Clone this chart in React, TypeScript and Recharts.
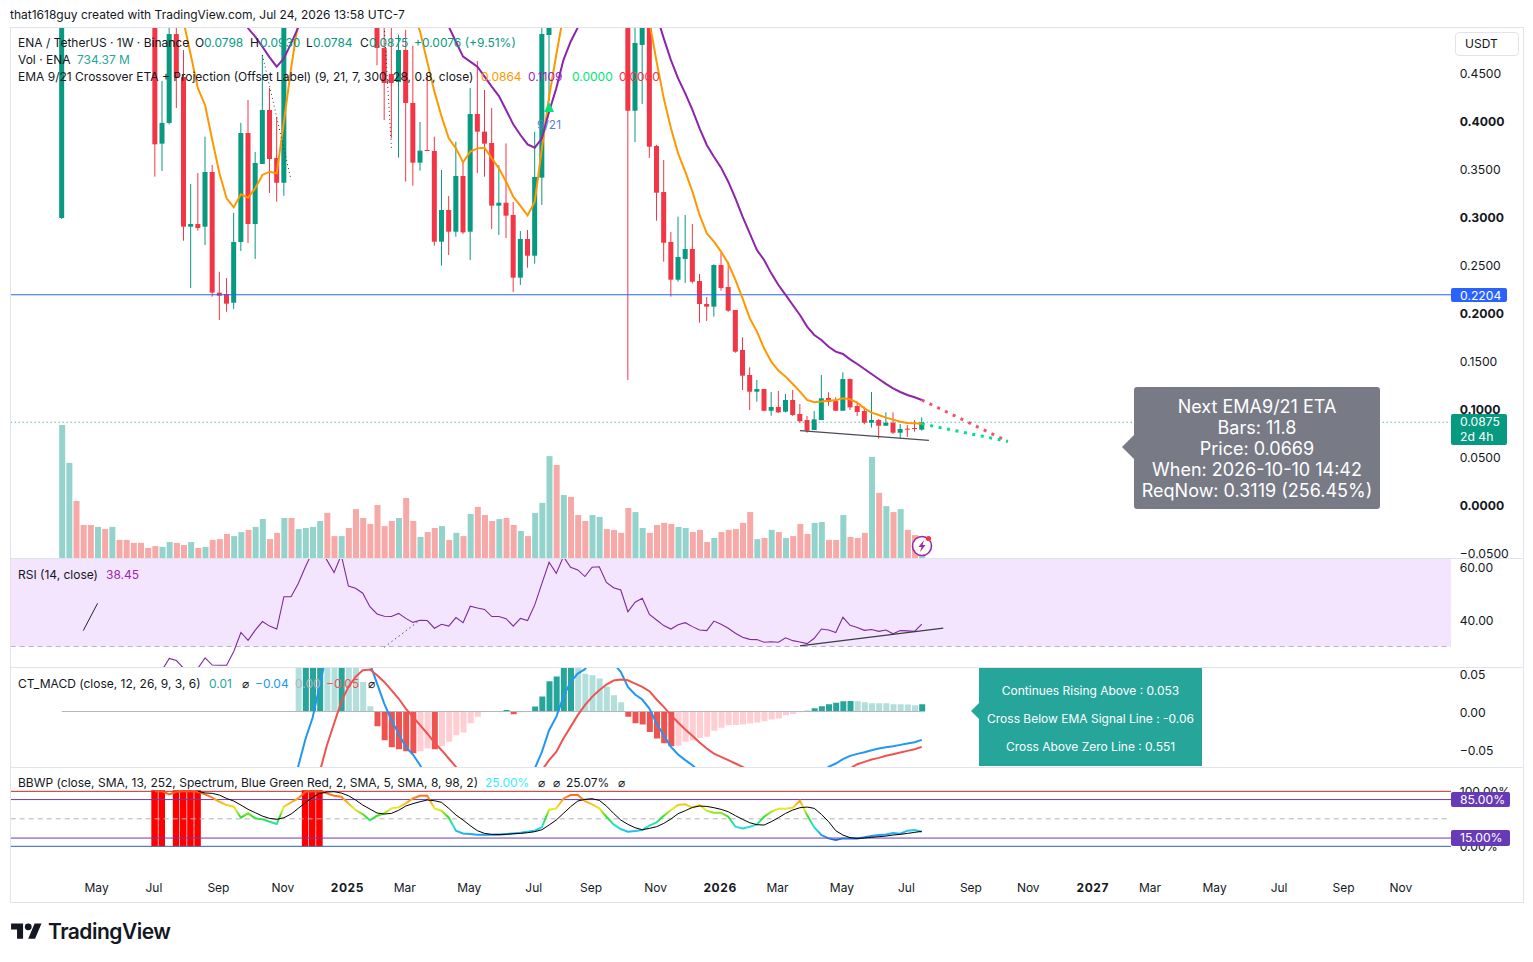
import { Bar, Cell, ComposedChart, Line, ReferenceArea, ReferenceDot, ReferenceLine, XAxis, YAxis } from 'recharts'

// weekly ENA/USDT. Bars above the pane top are estimates.
const opens = [
  0.299, 0.82, 0.96, 0.87, 0.8, 0.72, 0.79, 0.72, 0.78, 0.74, 0.69, 0.65, 0.61, 0.57, 0.3764, 0.398, 0.4906, 0.4458, 0.2899, 0.2927,
  0.2899, 0.3469, 0.2212, 0.2198, 0.2107, 0.274, 0.3875, 0.2927, 0.3552, 0.4115, 0.3615, 0.3357, 0.53, 0.515, 0.56, 0.63, 0.71, 0.83, 0.76, 0.72,
  0.8, 0.73, 0.66, 0.6, 0.56, 0.476, 0.449, 0.4406, 0.474, 0.4188, 0.3566, 0.3698, 0.3688, 0.2743, 0.3073, 0.2847, 0.3427, 0.2847, 0.4073, 0.3889,
  0.3771, 0.3118, 0.3149, 0.3021, 0.2368, 0.2771, 0.2597, 0.341, 0.4896, 0.53, 0.515, 0.64, 0.6, 0.56, 0.54, 0.58, 0.62, 0.59, 0.56, 0.53,
  0.4107, 0.4792, 0.53, 0.374, 0.326, 0.274, 0.2347, 0.2563, 0.2667, 0.2333, 0.2094, 0.2066, 0.25, 0.2271, 0.2031, 0.1615, 0.1354, 0.118, 0.1208, 0.0982,
  0.1021, 0.0972, 0.1094, 0.0948, 0.0885, 0.0781, 0.0885, 0.1115, 0.1083, 0.0982, 0.1312, 0.1031, 0.0979, 0.0857, 0.0885, 0.0826, 0.0857, 0.0753, 0.0795, 0.0802,
  0.0785,
]
const closes = [
  0.82, 0.96, 0.87, 0.8, 0.72, 0.79, 0.72, 0.78, 0.74, 0.69, 0.65, 0.61, 0.57, 0.3757, 0.398, 0.4906, 0.4458, 0.2899, 0.2927, 0.2885,
  0.3469, 0.2212, 0.218, 0.2097, 0.274, 0.3875, 0.2927, 0.3563, 0.4115, 0.3604, 0.3357, 0.53, 0.515, 0.56, 0.63, 0.71, 0.83, 0.76, 0.72, 0.8,
  0.73, 0.66, 0.6, 0.56, 0.476, 0.4396, 0.4396, 0.474, 0.4188, 0.3566, 0.3691, 0.3688, 0.2743, 0.3073, 0.2847, 0.3427, 0.284, 0.4073, 0.3889, 0.3764,
  0.3118, 0.3149, 0.3014, 0.2368, 0.2771, 0.2597, 0.3417, 0.4906, 0.53, 0.515, 0.64, 0.6, 0.56, 0.54, 0.58, 0.62, 0.59, 0.56, 0.53, 0.4107,
  0.4813, 0.53, 0.3732, 0.3253, 0.2732, 0.2347, 0.2583, 0.2667, 0.2326, 0.2094, 0.2066, 0.25, 0.226, 0.2024, 0.1597, 0.1347, 0.118, 0.1208, 0.0982, 0.1021,
  0.0965, 0.1094, 0.0938, 0.0872, 0.0774, 0.0892, 0.1111, 0.1073, 0.0982, 0.1312, 0.1017, 0.0969, 0.0857, 0.0885, 0.0826, 0.0857, 0.0753, 0.0792, 0.079, 0.0798,
  0.0862,
]
const highs = [
  0.86, 1.01, 1.02, 0.9, 0.83, 0.84, 0.81, 0.82, 0.8, 0.76, 0.71, 0.68, 0.63, 0.6, 0.4417, 0.53, 0.55, 0.474, 0.3344, 0.3458,
  0.3837, 0.3542, 0.243, 0.2364, 0.3042, 0.398, 0.4219, 0.3677, 0.4688, 0.4344, 0.4042, 0.56, 0.6, 0.6, 0.66, 0.74, 0.88, 0.92, 0.8, 0.84,
  0.83, 0.76, 0.69, 0.62, 0.58, 0.51, 0.5, 0.49, 0.495, 0.4785, 0.399, 0.4479, 0.3837, 0.349, 0.3219, 0.3784, 0.3576, 0.4344, 0.4625, 0.4323,
  0.4135, 0.3542, 0.3767, 0.3156, 0.2854, 0.2865, 0.3889, 0.5, 0.56, 0.6, 0.66, 0.68, 0.63, 0.6, 0.62, 0.65, 0.64, 0.61, 0.58, 0.55,
  0.51, 0.55, 0.56, 0.3751, 0.3594, 0.2844, 0.3003, 0.3021, 0.2927, 0.2406, 0.2167, 0.2507, 0.2625, 0.2535, 0.2031, 0.1747, 0.1434, 0.1302, 0.1208, 0.1177,
  0.1188, 0.1156, 0.1198, 0.1052, 0.0927, 0.0979, 0.1354, 0.1174, 0.1122, 0.1382, 0.1318, 0.1076, 0.1024, 0.1177, 0.0896, 0.0965, 0.0965, 0.0844, 0.0833, 0.0885,
  0.0913,
]
const lows = [
  0.298, 0.78, 0.84, 0.76, 0.68, 0.7, 0.69, 0.7, 0.72, 0.66, 0.62, 0.58, 0.54, 0.342, 0.348, 0.3965, 0.4135, 0.2753, 0.226, 0.2858,
  0.2708, 0.217, 0.1927, 0.2014, 0.2042, 0.2646, 0.2729, 0.2563, 0.3552, 0.325, 0.316, 0.3222, 0.505, 0.505, 0.54, 0.6, 0.69, 0.73, 0.68, 0.7,
  0.7, 0.62, 0.57, 0.53, 0.458, 0.401, 0.382, 0.3618, 0.3368, 0.3326, 0.3482, 0.3688, 0.2701, 0.2493, 0.2604, 0.2795, 0.2823, 0.2552, 0.3458, 0.342,
  0.2875, 0.2813, 0.2781, 0.2219, 0.2292, 0.2472, 0.2514, 0.3125, 0.42, 0.505, 0.51, 0.57, 0.54, 0.52, 0.52, 0.56, 0.56, 0.54, 0.51, 0.1302,
  0.3781, 0.4177, 0.3615, 0.2961, 0.2535, 0.217, 0.2326, 0.2313, 0.2309, 0.1899, 0.1917, 0.1962, 0.2233, 0.2012, 0.1586, 0.1198, 0.099, 0.1076, 0.0976, 0.093,
  0.0958, 0.0965, 0.0928, 0.0857, 0.0753, 0.0781, 0.0885, 0.1035, 0.0982, 0.0982, 0.099, 0.0927, 0.0841, 0.0806, 0.0691, 0.0826, 0.074, 0.0695, 0.0708, 0.0764,
  0.0774,
]
// relative weekly volume in billions
const volumes = [
  49.2, 35.2, 21.1, 12.2, 12.2, 11.5, 10.7, 11.5, 6.7, 6.7, 5.6, 5.6, 3.7, 4.4, 4.1, 5.9, 5.6, 4.8, 5.9, 3.7,
  4.1, 6.7, 7.0, 8.9, 8.1, 9.6, 10.4, 11.5, 14.4, 7.0, 9.3, 14.8, 14.8, 10.7, 11.1, 11.5, 13.7, 16.7, 8.1, 8.1,
  11.1, 18.1, 14.8, 12.6, 19.6, 11.8, 13.7, 14.8, 22.2, 13.7, 7.8, 9.6, 11.1, 11.8, 6.7, 9.3, 8.1, 16.3, 18.9, 15.9,
  13.7, 14.4, 14.8, 12.2, 10.0, 8.1, 16.7, 20.4, 37.7, 34.4, 23.3, 22.6, 15.9, 13.7, 15.9, 15.2, 10.7, 10.4, 9.3, 18.5,
  17.0, 11.1, 9.3, 12.2, 13.0, 12.6, 11.5, 11.1, 9.6, 10.4, 5.9, 7.4, 9.6, 10.4, 10.7, 13.0, 17.0, 7.0, 7.4, 10.4,
  9.6, 7.4, 8.1, 12.6, 8.9, 13.0, 13.3, 6.7, 6.7, 15.9, 7.8, 7.4, 9.3, 37.4, 24.1, 19.2, 17.0, 18.1, 10.4, 8.5,
  0.73,
]
const ema9 = [
  null, null, null, null, null, null, null, null, 0.77, 0.75, 0.73, 0.71, 0.68, 0.63, 0.59, 0.56, 0.535, 0.5035, 0.4688, 0.434,
  0.4167, 0.3802, 0.3455, 0.3194, 0.3101, 0.3236, 0.3201, 0.3299, 0.3438, 0.3472, 0.3455, 0.3993, 0.4549, 0.5035, 0.54, 0.58, 0.63, 0.65, 0.66, 0.68,
  0.69, 0.68, 0.67, 0.65, 0.62, 0.6, 0.58, 0.56, 0.54, 0.515, 0.4931, 0.4618, 0.4306, 0.4045, 0.3819, 0.3715, 0.3569, 0.3681, 0.3715, 0.3722,
  0.3611, 0.3507, 0.3368, 0.3212, 0.3115, 0.3017, 0.316, 0.3715, 0.4253, 0.4688, 0.5104, 0.53, 0.55, 0.56, 0.565, 0.57, 0.57, 0.57, 0.56, 0.55,
  0.54, 0.5174, 0.5035, 0.4618, 0.4236, 0.3924, 0.3663, 0.3472, 0.3264, 0.3021, 0.283, 0.2743, 0.2639, 0.2517, 0.2344, 0.2153, 0.1945, 0.1806, 0.1632, 0.1493,
  0.14, 0.1337, 0.1261, 0.1181, 0.1094, 0.107, 0.1077, 0.1087, 0.109, 0.1111, 0.1101, 0.1066, 0.1007, 0.0962, 0.0938, 0.091, 0.0889, 0.0868, 0.0854, 0.0851,
  0.0846,
]
const ema21 = [
  null, null, null, null, null, null, null, null, null, null, null, null, null, null, null, null, null, null, null, null,
  0.64, 0.62, 0.6, 0.575, 0.55, 0.52, 0.4965, 0.4878, 0.4774, 0.4663, 0.4566, 0.4653, 0.4809, 0.4972, 0.52, 0.545, 0.57, 0.59, 0.6, 0.615,
  0.625, 0.63, 0.63, 0.625, 0.62, 0.605, 0.59, 0.58, 0.57, 0.56, 0.55, 0.54, 0.525, 0.5139, 0.4983, 0.4826, 0.467, 0.4618, 0.4566, 0.4462,
  0.4358, 0.426, 0.4115, 0.3965, 0.3854, 0.3757, 0.3722, 0.3819, 0.4097, 0.434, 0.4635, 0.4826, 0.4972, 0.52, 0.54, 0.56, 0.575, 0.58, 0.58, 0.575,
  0.565, 0.55, 0.53, 0.5104, 0.4861, 0.4635, 0.4444, 0.4288, 0.4115, 0.3924, 0.375, 0.3628, 0.3514, 0.3368, 0.3194, 0.3003, 0.283, 0.2656, 0.2552, 0.2413,
  0.2292, 0.2188, 0.2083, 0.1979, 0.1858, 0.1771, 0.1719, 0.1649, 0.1597, 0.1573, 0.1517, 0.1469, 0.1417, 0.1365, 0.1313, 0.1261, 0.1215, 0.1177, 0.1146, 0.1122,
  0.1094,
]
// sparse series: index -> value
const projRed: Record<number, number> = { 120: 0.1094, 132: 0.0662 }
const projGreen: Record<number, number> = { 120: 0.0846, 132: 0.0662 }
const supportLine: Record<number, number> = { 103: 0.0774, 121: 0.0674 }
const dottedA: Record<number, number> = { 28: 0.4688, 32: 0.3385 }
const dottedB: Record<number, number> = { 45: 0.4979, 46: 0.3715 }
const hline = 0.219
const lastLine = 0.0862
const priceTicks = [0.45, 0.4, 0.35, 0.3, 0.25, 0.2, 0.15, 0.1, 0.05, 0, -0.05]
const boldPriceTicks = [0.4, 0.3, 0.2, 0.1, 0]

const rsi = [
  null, null, null, null, null, null, null, null, null, null, null, null, null, null, 21.1, 25.5, 24.7, 21.8, 19.9, 21.8,
  25.7, 23.0, 22.9, 22.9, 28.1, 35.3, 32.3, 36.2, 39.4, 37.7, 36.6, 48.8, 48.8, 53.8, 60.1, 65.8, 67.7, 62.6, 57.9, 64.5,
  52.8, 52.0, 50.1, 45.0, 42.3, 41.4, 41.3, 42.5, 40.6, 39.1, 39.9, 39.8, 36.9, 38.4, 37.7, 40.9, 39.0, 45.2, 44.5, 44.0,
  41.3, 41.3, 40.5, 37.7, 40.6, 39.8, 45.7, 53.8, 61.8, 57.6, 63.9, 59.9, 58.9, 56.4, 59.9, 60.1, 54.2, 52.2, 51.3, 43.1,
  46.7, 48.2, 42.1, 40.0, 37.9, 36.6, 38.2, 39.0, 37.5, 36.2, 36.0, 39.6, 38.4, 36.9, 35.0, 33.5, 32.7, 32.6, 31.6, 31.8,
  31.6, 33.3, 32.2, 31.7, 31.1, 33.1, 36.6, 36.2, 35.3, 41.0, 38.0, 37.2, 36.1, 36.4, 35.7, 36.2, 34.8, 36.0, 35.9, 35.7,
  38.45,
]
const rsiTrendA: Record<number, number> = { 3: 36.0, 5: 46.3 }
const rsiTrendB: Record<number, number> = { 103: 30.2, 123: 36.9 }
const rsiDotted: Record<number, number> = { 45: 29.7, 50: 40.0 }
const rsiTicks = [60, 40]

const macdHist = [
  null, null, null, null, null, null, null, null, null, null, null, null, null, null, null, null, null, null, null, null,
  null, null, null, null, null, null, null, null, null, null, null, null, null, 0.08, 0.085, 0.09, 0.095, 0.09, 0.08, 0.085,
  0.08, 0.065, 0.039, 0.007, -0.0193, -0.0377, -0.0469, -0.0496, -0.0522, -0.0548, -0.0522, -0.0487, -0.0496, -0.0456, -0.0399, -0.0311, -0.0276, -0.0154, -0.007, 0,
  0, 0, 0.002, -0.0035, -0.001, -0.0005, 0.0066, 0.0197, 0.0399, 0.0461, 0.06, 0.07, 0.065, 0.0496, 0.0478, 0.0434, 0.0329, 0.0215, 0.0123, -0.007,
  -0.0154, -0.0171, -0.0268, -0.0355, -0.0417, -0.0456, -0.045, -0.0399, -0.0382, -0.0346, -0.0333, -0.0254, -0.0215, -0.018, -0.0178, -0.0171, -0.0158, -0.0145, -0.0127, -0.0105,
  -0.0092, -0.0048, -0.0031, -0.0009, 0.0009, 0.0044, 0.007, 0.0096, 0.0114, 0.0136, 0.0137, 0.0135, 0.0123, 0.011, 0.0109, 0.0108, 0.0096, 0.0095, 0.0094, 0.0083,
  0.0096,
]
const macdLine = [
  null, null, null, null, null, null, null, null, null, null, null, null, null, null, null, null, null, null, null, null,
  null, null, null, null, null, null, null, null, null, null, null, null, -0.13, -0.072, -0.0364, -0.0083, 0.0346, 0.0785, 0.1, 0.11,
  0.115, 0.11, 0.09, 0.0632, 0.0368, 0.0105, -0.0114, -0.0289, -0.0465, -0.0566, -0.0706, -0.088, -0.1, -0.11, -0.12, -0.125, -0.13, -0.13, -0.125, -0.12,
  -0.115, -0.11, -0.105, -0.1, -0.095, -0.09, -0.075, -0.0531, -0.0246, -0.007, 0.0193, 0.039, 0.05, 0.0557, 0.07, 0.08, 0.0741, 0.0632, 0.0522, 0.0325,
  0.0224, 0.0158, 0.0039, -0.0158, -0.0311, -0.0465, -0.0566, -0.064, -0.0706, -0.0794, -0.09, -0.1, -0.11, -0.12, -0.125, -0.13, -0.13, -0.125, -0.12, -0.115,
  -0.11, -0.105, -0.1, -0.095, -0.09, -0.085, -0.08, -0.0728, -0.0684, -0.0627, -0.0583, -0.0557, -0.0535, -0.0509, -0.0487, -0.0469, -0.0456, -0.0439, -0.0421, -0.0404,
  -0.0373,
]
const macdSignal = [
  null, null, null, null, null, null, null, null, null, null, null, null, null, null, null, null, null, null, null, null,
  null, null, null, null, null, null, null, null, null, null, null, null, null, null, -0.14, -0.11, -0.0794, -0.0443, -0.0158, 0.0127,
  0.0325, 0.0456, 0.0544, 0.0553, 0.0478, 0.039, 0.0281, 0.0171, 0.0039, -0.007, -0.018, -0.0289, -0.0408, -0.0509, -0.0618, -0.0728, -0.085, -0.095, -0.105, -0.112,
  -0.118, -0.122, -0.125, -0.125, -0.122, -0.115, -0.1, -0.0772, -0.064, -0.0531, -0.0355, -0.0202, -0.0048, 0.0083, 0.0193, 0.0281, 0.0355, 0.0408, 0.0421, 0.0412,
  0.0368, 0.0325, 0.0268, 0.0158, 0.0061, -0.0048, -0.0145, -0.0237, -0.032, -0.0408, -0.0487, -0.0553, -0.0596, -0.064, -0.0684, -0.0728, -0.078, -0.085, -0.092, -0.098,
  -0.103, -0.106, -0.108, -0.108, -0.105, -0.1, -0.095, -0.09, -0.085, -0.08, -0.075, -0.0693, -0.0662, -0.0632, -0.061, -0.0583, -0.0561, -0.0539, -0.0518, -0.0496,
  -0.0465,
]
const macdTicks = [0.05, 0, -0.05]

const bbwp = [
  null, null, null, null, null, null, null, null, null, null, null, null, null, 100, 100, 94.5, 99.3, 100, 100, 99.3,
  94.5, 88.4, 81, 75, 72, 52, 60, 51, 49, 44.8, 40.5, 72, 80, 87, 99.3, 100, 100, 96.3, 92, 90.2,
  78, 66, 58.7, 47.2, 55.7, 60, 69, 70.8, 78, 87, 92, 92, 69, 64.8, 52, 28.4, 23.5, 22.3, 21.1, 21.1,
  21.1, 21.1, 22.3, 23.5, 24.8, 26.6, 28.4, 35, 66.6, 69, 86.6, 93.2, 93.2, 82.3, 76.3, 69, 53.8, 39.9, 31.4, 26.6,
  27.8, 29.6, 37.5, 43.5, 55.7, 66, 75, 76.3, 70.2, 75, 64.8, 61.1, 61.1, 53.8, 35.7, 32.6, 35.7, 39.9, 53.8, 62.9,
  68.4, 68.4, 70.2, 82.9, 56.9, 34.4, 20.5, 14.4, 11.4, 14.4, 14.4, 14.4, 16.3, 18.7, 20.5, 21.7, 24.1, 22.9, 28.4, 29.6,
  26.6,
]
const bbwpMa = [
  null, null, null, null, null, null, null, null, null, null, null, null, null, null, null, null, null, null, null, 100,
  97, 96.3, 93.2, 87, 82.3, 75, 67.2, 61.1, 55, 50.8, 49, 52, 58.7, 69, 79.3, 89, 96.3, 98.7, 99.3, 96.9,
  92, 84.2, 75, 67.8, 60.5, 58.7, 59.9, 65.4, 73.2, 77.5, 81.1, 84.2, 82.9, 79.9, 69, 56.9, 47.8, 37.5, 28.4, 23.5,
  21.7, 21.7, 21.7, 22.9, 23.5, 24.8, 26.6, 30.2, 38.7, 47.8, 59.9, 72, 82.3, 85.4, 86.6, 83.5, 73.2, 59.9, 47.8, 39.9,
  33.8, 30.2, 32.6, 35.7, 41.7, 49.6, 59.3, 64.8, 70.8, 73.2, 72.6, 70.2, 67.2, 62.9, 55.7, 49, 42.9, 39.3, 38.7, 44.8,
  52, 59.9, 66, 70.2, 71.4, 69, 58.1, 44.8, 28.4, 20.5, 15.7, 14.4, 15, 16.3, 17.5, 18.7, 20.5, 21.7, 23.5, 25.3,
  27.2,
]
const bbwpAlerts = [13, 14, 16, 17, 18, 19, 34, 35, 36]
const bbwpTicks = [100, 0]

const timeTicks = [5, 13, 22, 31, 40, 48, 57, 66, 74, 83, 92, 100, 109, 118, 127, 135, 144, 152, 161, 170, 179, 187]
const timeLabels = ['May', 'Jul', 'Sep', 'Nov', '2025', 'Mar', 'May', 'Jul', 'Sep', 'Nov', '2026', 'Mar', 'May', 'Jul', 'Sep', 'Nov', '2027', 'Mar', 'May', 'Jul', 'Sep', 'Nov']

const rows = Array.from({ length: 202 }, (_, k) => {
  const i = k - 7
  const hasBar = i >= 0 && i < opens.length
  return {
    idx: i,
    open: hasBar ? opens[i] : null,
    close: hasBar ? closes[i] : null,
    range: hasBar ? [lows[i], highs[i]] : null,
    volume: hasBar ? volumes[i] : null,
    ema9: ema9[i] ?? null,
    ema21: ema21[i] ?? null,
    projRed: projRed[i] ?? null,
    projGreen: projGreen[i] ?? null,
    supportLine: supportLine[i] ?? null,
    dottedA: dottedA[i] ?? null,
    dottedB: dottedB[i] ?? null,
    rsi: rsi[i] ?? null,
    rsiTrendA: rsiTrendA[i] ?? null,
    rsiTrendB: rsiTrendB[i] ?? null,
    rsiDotted: rsiDotted[i] ?? null,
    hist: macdHist[i] ?? null,
    macd: macdLine[i] ?? null,
    signal: macdSignal[i] ?? null,
    bbwp: bbwp[i] ?? null,
    bbwpMa: bbwpMa[i] ?? null,
    alert: bbwpAlerts.includes(i) ? 102 : null,
  }
})

const CHART_W = 1517.7
const AXIS_W = 70
const FONT = 'Inter, "Noto Sans", sans-serif'
const INK = '#131722'
const UP = '#089981'
const DOWN = '#f23645'

function histColor(i: number) {
  const v = macdHist[i]
  const prev = macdHist[i - 1]
  if (v == null) return 'none'
  const rising = prev != null && v > prev
  if (v >= 0) return rising ? '#26a69a' : '#b2dfdb'
  return rising || prev == null ? '#ffcdd2' : '#ef5350'
}

function Candle(props: any) {
  const { x, y, width, height, payload } = props
  if (!payload || payload.open == null) return null
  const [low, high] = payload.range
  const toY = (v: number) => y + ((high - v) / (high - low)) * height
  const cx = x + width / 2
  const top = toY(Math.max(payload.open, payload.close))
  const bottom = toY(Math.min(payload.open, payload.close))
  const color = payload.close >= payload.open ? UP : DOWN
  return (
    <g>
      <line x1={cx} x2={cx} y1={y} y2={y + height} stroke={color} strokeWidth={1} />
      <rect x={cx - 2.5} y={top} width={5} height={Math.max(bottom - top, 1)} fill={color} />
    </g>
  )
}

function AxisTick(props: any) {
  const { x, y, payload, format, bold } = props
  const strong = bold && bold.includes(payload.value)
  return (
    <text x={x - 4} y={y + 5} fontFamily={FONT} fontSize={12.2} fontWeight={strong ? 700 : 400} fill={INK}>
      {format(payload.value)}
    </text>
  )
}

function TimeTick(props: any) {
  const { x, y, payload } = props
  const label = timeLabels[timeTicks.indexOf(payload.value)]
  const year = label.startsWith('20')
  return (
    <text x={x - 1} y={y + 11} textAnchor="middle" fontFamily={FONT} fontSize={12} fontWeight={year ? 700 : 400} letterSpacing={year ? 0.6 : 0} fill={INK}>
      {label}
    </text>
  )
}

function CrossMark(props: any) {
  const { cx, cy } = props
  return (
    <g>
      <polygon points={`${cx - 5},${cy + 5} ${cx + 5},${cy + 5} ${cx},${cy - 5}`} fill="#00e676" />
      <text x={cx} y={cy + 22} textAnchor="middle" fontFamily={FONT} fontSize={12} fill="#5b7fd6">
        9/21
      </text>
    </g>
  )
}

const num4 = (v: number) => (v < 0 ? '\u2212' : '') + Math.abs(v).toFixed(4)
const num2 = (v: number) => (v < 0 ? '\u2212' : '') + Math.abs(v).toFixed(2)
const pct = (v: number) => `${v.toFixed(2)}%`

function Pane({ top, height, children }: { top: number; height: number; children: any }) {
  return <div style={{ position: 'absolute', left: 10, top, width: 1513, height, overflow: 'hidden' }}>{children}</div>
}

const layer = { position: 'absolute', left: -2.45, top: 0 } as const
const noDot = { dot: false, activeDot: false, isAnimationActive: false, connectNulls: true } as const

function Txt({ x, y, color = INK, size = 12, children }: { x: number; y: number; color?: string; size?: number; children: any }) {
  return (
    <span style={{ position: 'absolute', left: x, top: y - 9, lineHeight: '18px', fontSize: size, color, whiteSpace: 'nowrap' }}>{children}</span>
  )
}

function Rule({ left, top, width, height, color = '#e0e3eb' }: { left: number; top: number; width: number; height: number; color?: string }) {
  return <div style={{ position: 'absolute', left, top, width, height, background: color }} />
}

function Badge({ top, height, width, color, lines }: { top: number; height: number; width: number; color: string; lines: string[] }) {
  return (
    <div style={{ position: 'absolute', left: 1451, top, width, height, background: color, color: '#fff', fontSize: 12.2, lineHeight: '14.5px', borderRadius: 2, paddingLeft: 9, boxSizing: 'border-box', paddingTop: 1 }}>
      {lines.map((l) => (
        <div key={l}>{l}</div>
      ))}
    </div>
  )
}

export default function App() {
  return (
    <div style={{ position: 'absolute', left: 0, top: 0, width: 1533, height: 962, background: '#fff', fontFamily: FONT, overflow: 'hidden' }}>
      <Txt x={10} y={15} size={12}>that1618guy created with TradingView.com, Jul 24, 2026 13:58 UTC-7</Txt>

      {/* price pane: volume layer under the candles */}
      <Pane top={27} height={531}>
        <div style={layer}>
          <ComposedChart width={CHART_W} height={531} data={rows} margin={{ top: 0, right: AXIS_W, bottom: 0, left: 0 }}>
            <XAxis dataKey="idx" scale="band" hide />
            <YAxis domain={[0, 196.5]} allowDataOverflow hide />
            <Bar dataKey="volume" barSize={6} isAnimationActive={false}>
              {rows.map((r) => (
                <Cell key={r.idx} fill={r.close != null && r.close >= (r.open as number) ? '#94d3cc' : '#f7a9a7'} />
              ))}
            </Bar>
          </ComposedChart>
        </div>
        <div style={layer}>
          <ComposedChart width={CHART_W} height={531} data={rows} margin={{ top: 0, right: 0, bottom: 0, left: 0 }}>
            <XAxis dataKey="idx" scale="band" hide />
            <YAxis
              orientation="right"
              width={AXIS_W}
              domain={[-0.05521, 0.49792]}
              allowDataOverflow
              ticks={priceTicks}
              interval={0}
              axisLine={false}
              tickLine={false}
              tick={<AxisTick format={num4} bold={boldPriceTicks} />}
            />
            <ReferenceLine y={hline} stroke="#2962ff" strokeWidth={1} />
            <ReferenceLine y={lastLine} stroke={UP} strokeWidth={1} strokeDasharray="1 3" />
            <Bar dataKey="range" barSize={5} shape={<Candle />} isAnimationActive={false} />
            <Line dataKey="ema9" stroke="#ff9800" strokeWidth={2} {...noDot} connectNulls={false} />
            <Line dataKey="ema21" stroke="#8e24aa" strokeWidth={2} {...noDot} connectNulls={false} />
            <Line dataKey="projRed" stroke="#f2526a" strokeWidth={3} strokeDasharray="3 5.6" {...noDot} />
            <Line dataKey="projGreen" stroke="#00e08a" strokeWidth={3} strokeDasharray="3 5.6" {...noDot} />
            <Line dataKey="supportLine" stroke="#4a4d57" strokeWidth={1.2} {...noDot} />
            <Line dataKey="dottedA" stroke="#333" strokeWidth={1} strokeDasharray="1 3" {...noDot} />
            <Line dataKey="dottedB" stroke="#333" strokeWidth={1} strokeDasharray="1 3" {...noDot} />
            <ReferenceDot x={68} y={0.4146} r={0} shape={<CrossMark />} />
          </ComposedChart>
        </div>
      </Pane>

      {/* RSI */}
      <Pane top={558} height={109}>
        <div style={layer}>
          <ComposedChart width={CHART_W} height={109} data={rows} margin={{ top: 0, right: 0, bottom: 0, left: 0 }}>
            <XAxis dataKey="idx" scale="band" hide />
            <YAxis
              orientation="right"
              width={AXIS_W}
              domain={[22.26, 63.4]}
              allowDataOverflow
              ticks={rsiTicks}
              interval={0}
              axisLine={false}
              tickLine={false}
              tick={<AxisTick format={num2} />}
            />
            <ReferenceArea y1={30} y2={63.4} fill="#f3e5fd" fillOpacity={1} stroke="none" />
            <ReferenceLine y={30} stroke="#b9b3c4" strokeDasharray="5 4" />
            <Line dataKey="rsi" stroke="#7e2a9c" strokeWidth={1.1} {...noDot} connectNulls={false} />
            <Line dataKey="rsiTrendA" stroke="#23222e" strokeWidth={1} {...noDot} />
            <Line dataKey="rsiTrendB" stroke="#3c3c4a" strokeWidth={1.2} {...noDot} />
            <Line dataKey="rsiDotted" stroke="#5a4d6a" strokeWidth={1} strokeDasharray="1.5 3" {...noDot} />
          </ComposedChart>
        </div>
      </Pane>

      {/* MACD */}
      <Pane top={667} height={100}>
        <div style={layer}>
          <ComposedChart width={CHART_W} height={100} data={rows} margin={{ top: 0, right: 0, bottom: 0, left: 0 }}>
            <XAxis dataKey="idx" scale="band" hide />
            <YAxis
              orientation="right"
              width={AXIS_W}
              domain={[-0.073, 0.0586]}
              allowDataOverflow
              ticks={macdTicks}
              interval={0}
              axisLine={false}
              tickLine={false}
              tick={<AxisTick format={num2} />}
            />
            <ReferenceLine segment={[{ x: 0, y: 0 }, { x: 120, y: 0 }]} stroke="#b2b5be" strokeWidth={1} />
            <Bar dataKey="hist" barSize={6} isAnimationActive={false}>
              {rows.map((r) => (
                <Cell key={r.idx} fill={histColor(r.idx)} />
              ))}
            </Bar>
            <Line dataKey="macd" stroke="#2196f3" strokeWidth={2} {...noDot} connectNulls={false} />
            <Line dataKey="signal" stroke="#ef5350" strokeWidth={2} {...noDot} connectNulls={false} />
          </ComposedChart>
        </div>
      </Pane>

      {/* BBWP and the time axis */}
      <Pane top={767} height={135}>
        <div style={layer}>
          <ComposedChart width={CHART_W} height={135} data={rows} margin={{ top: 0, right: 0, bottom: 0, left: 0 }}>
            <defs>
              <linearGradient id="bbwpSpectrum" x1="0" y1="0" x2="0" y2="1">
                <stop offset="0%" stopColor="#f4511e" />
                <stop offset="18%" stopColor="#ff9f1c" />
                <stop offset="36%" stopColor="#e6ee22" />
                <stop offset="52%" stopColor="#35e020" />
                <stop offset="72%" stopColor="#22e6d6" />
                <stop offset="88%" stopColor="#26a8f0" />
                <stop offset="100%" stopColor="#2a5fe0" />
              </linearGradient>
            </defs>
            <XAxis dataKey="idx" scale="band" height={29} ticks={timeTicks} interval={0} axisLine={false} tickLine={false} tick={<TimeTick />} />
            <YAxis
              orientation="right"
              width={AXIS_W}
              domain={[-48.5, 144.2]}
              allowDataOverflow
              ticks={bbwpTicks}
              interval={0}
              axisLine={false}
              tickLine={false}
              tick={<AxisTick format={pct} />}
            />
            <Bar dataKey="alert" barSize={6.5} fill="#ff0000" isAnimationActive={false} />
            <ReferenceLine y={100} stroke="#c62828" strokeWidth={1} />
            <ReferenceLine y={85} stroke="#673ab7" strokeWidth={1} />
            <ReferenceLine y={50} stroke="#b2b5be" strokeDasharray="5 4" />
            <ReferenceLine y={15} stroke="#673ab7" strokeWidth={1} />
            <ReferenceLine y={0} stroke="#2a5fc0" strokeWidth={1} />
            <Line dataKey="bbwp" stroke="url(#bbwpSpectrum)" strokeWidth={2} {...noDot} connectNulls={false} />
            <Line dataKey="bbwpMa" stroke="#000" strokeWidth={1} {...noDot} connectNulls={false} />
          </ComposedChart>
        </div>
      </Pane>

      {/* frame and pane rules */}
      <Rule left={1451} top={27} width={6} height={846} color="#fff" />
      <Rule left={10} top={27} width={1513} height={1} />
      <Rule left={10} top={902} width={1514} height={1} />
      <Rule left={10} top={27} width={1} height={875} />
      <Rule left={1523} top={27} width={1} height={875} />
      <Rule left={10} top={558} width={1513} height={1} />
      <Rule left={10} top={667} width={1513} height={1} />
      <Rule left={10} top={767} width={1513} height={1} />

      {/* legends */}
      <Txt x={18} y={43}>ENA / TetherUS · 1W · Binance</Txt>
      <Txt x={195} y={43}>O</Txt>
      <Txt x={204} y={43} color={UP}>0.0798</Txt>
      <Txt x={250} y={43}>H</Txt>
      <Txt x={260} y={43} color={UP}>0.0930</Txt>
      <Txt x={306} y={43}>L</Txt>
      <Txt x={313} y={43} color={UP}>0.0784</Txt>
      <Txt x={360} y={43}>C</Txt>
      <Txt x={369} y={43} color={UP}>0.0875</Txt>
      <Txt x={414} y={43} color={UP}>+0.0076 (+9.51%)</Txt>
      <Txt x={18} y={60}>Vol · ENA</Txt>
      <Txt x={77} y={60} color="#26a69a">734.37 M</Txt>
      <Txt x={18} y={77}>EMA 9/21 Crossover ETA + Projection (Offset Label) (9, 21, 7, 300, 28, 0.8, close)</Txt>
      <Txt x={481} y={77} color="#ff9800">0.0864</Txt>
      <Txt x={528} y={77} color="#9c27b0">0.1109</Txt>
      <Txt x={572} y={77} color="#00e676">0.0000</Txt>
      <Txt x={619} y={77} color="#f23645">0.0000</Txt>
      <Txt x={18} y={575}>RSI (14, close)</Txt>
      <Txt x={106} y={575} color="#9c27b0">38.45</Txt>
      <Txt x={18} y={684}>CT_MACD (close, 12, 26, 9, 3, 6)</Txt>
      <Txt x={209} y={684} color="#26a69a">0.01</Txt>
      <Txt x={242} y={684}>⌀</Txt>
      <Txt x={255} y={684} color="#2196f3">−0.04</Txt>
      <Txt x={295} y={684} color="#b2b5be">0.00</Txt>
      <Txt x={326} y={684} color="#ef5350">−0.05</Txt>
      <Txt x={368} y={684}>⌀</Txt>
      <Txt x={18} y={783}>BBWP (close, SMA, 13, 252, Spectrum, Blue Green Red, 2, SMA, 5, SMA, 8, 98, 2)</Txt>
      <Txt x={485} y={783} color="#33eeff">25.00%</Txt>
      <Txt x={538} y={783}>⌀</Txt>
      <Txt x={553} y={783}>⌀</Txt>
      <Txt x={566} y={783}>25.07%</Txt>
      <Txt x={618} y={783}>⌀</Txt>

      {/* price-scale badges */}
      <div style={{ position: 'absolute', left: 1455, top: 32, width: 64, height: 24, border: '1px solid #e0e3eb', borderRadius: 4, boxSizing: 'border-box', fontSize: 12, lineHeight: '22px', paddingLeft: 9, color: INK, background: '#fff' }}>USDT</div>
      <Badge top={288} height={14} width={56} color="#2962ff" lines={['0.2204']} />
      <Badge top={414} height={31} width={56} color={UP} lines={['0.0875', '2d 4h']} />
      <Badge top={792} height={15} width={59} color="#673ab7" lines={['85.00%']} />
      <Badge top={830} height={16} width={59} color="#673ab7" lines={['15.00%']} />

      {/* ETA label */}
      <div style={{ position: 'absolute', left: 1122, top: 435, width: 0, height: 0, borderTop: '12px solid transparent', borderBottom: '12px solid transparent', borderRight: '12px solid #787b86' }} />
      <div style={{ position: 'absolute', left: 1134, top: 387, width: 246, height: 122, background: '#787b86', borderRadius: 3, color: '#fff', fontSize: 18, lineHeight: '21px', textAlign: 'center', paddingTop: 9, boxSizing: 'border-box' }}>
        <div>Next EMA9/21 ETA</div>
        <div>Bars: 11.8</div>
        <div>Price: 0.0669</div>
        <div>When: 2026-10-10 14:42</div>
        <div>ReqNow: 0.3119 (256.45%)</div>
      </div>

      {/* MACD label */}
      <div style={{ position: 'absolute', left: 971, top: 703, width: 0, height: 0, borderTop: '8px solid transparent', borderBottom: '8px solid transparent', borderRight: '8px solid #26a69a' }} />
      <div style={{ position: 'absolute', left: 979, top: 668, width: 223, height: 98, background: '#26a69a', color: '#fff', fontSize: 12, lineHeight: '28px', textAlign: 'center', paddingTop: 9, boxSizing: 'border-box' }}>
        <div>Continues Rising Above : 0.053</div>
        <div>Cross Below EMA Signal Line : -0.06</div>
        <div>Cross Above Zero Line : 0.551</div>
      </div>

      {/* alert icon */}
      <svg style={{ position: 'absolute', left: 908, top: 532 }} width={28} height={28}>
        <circle cx={14} cy={14} r={9.5} fill="#fff" stroke="#9c27b0" strokeWidth={1.6} />
        <path d="M16 8 L10.5 15 H13.5 L12 20 L17.5 13 H14.5 Z" fill="#9c27b0" />
        <circle cx={20.5} cy={6.5} r={2.6} fill="#f23645" />
      </svg>

      {/* logo */}
      <svg style={{ position: 'absolute', left: 11, top: 920 }} width={31} height={24} viewBox="0 0 36 28">
        <path d="M14 22H7V11H0V4h14v18zM28 22h-8l7.5-18h8L28 22z" fill={INK} />
        <circle cx={20} cy={8} r={4} fill={INK} />
      </svg>
      <span style={{ position: 'absolute', left: 48, top: 919, fontSize: 21, fontWeight: 600, letterSpacing: -0.5, lineHeight: '26px', color: INK }}>TradingView</span>
    </div>
  )
}
